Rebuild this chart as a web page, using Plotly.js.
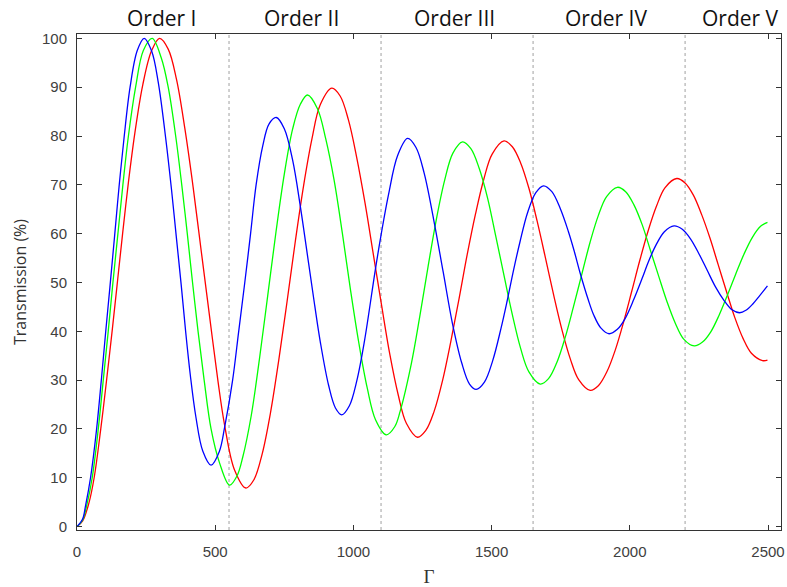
<!DOCTYPE html>
<html>
<head>
<meta charset="utf-8">
<script src="https://cdn.plot.ly/plotly-3.0.1.min.js"></script>
<style>html,body{margin:0;padding:0;background:#fff;}#chart{width:787px;height:587px;}</style>
</head>
<body>
<div id="chart"></div>
<script>
// Retardation Γ and transmission (%)
const blueGamma = [0,20,31,49,70,88,104,119,136,152,170,192,218,243,270,294,321,342,359,377,393,410,430,455,485,515,534,563,585,607,628,648,672,695,721,750,780,808,838,860,880,910,935,958,985,1012,1040,1079,1100,1127,1160,1196,1226,1256,1290,1325,1358,1392,1420,1444,1474,1504,1534,1555,1580,1603,1630,1660,1688,1718,1748,1778,1800,1820,1850,1869,1895,1925,1955,1983,2015,2045,2067,2095,2125,2160,2190,2220,2250,2280,2310,2340,2370,2397,2420,2445,2470,2498];
const blueT     = [0,1.5,4.3,10,19.5,30,40,49,59.5,69.5,79.5,90,97.5,100,97.4,91,79.5,69,59.5,49.5,40,31,22.5,15.5,12.6,15.4,20.3,30,40,50,60,70,78,82.5,83.8,81.5,75.1,65.6,53.9,45.3,37.9,29,24.3,22.9,24.7,29.8,38,52.5,59.7,68,76,79.5,77.7,72.4,63,52.1,41.7,33.5,29.2,28.1,29.6,34,40.6,45.9,52.7,58.4,64.3,68.4,69.8,68.6,65.2,60.4,56.2,52,46.4,43.4,40.7,39.5,40.4,42.6,46.6,50.9,54.2,57.7,60.4,61.6,60.9,58.9,55.9,52.5,49.1,46.4,44.4,43.8,44.3,45.6,47.3,49.3];

const greenGamma = [0,20,37,55,77,95,113,130,148,166,186,212,240,272,305,330,357,379,399,418,438,460,485,516,552,579,600,630,660,690,720,750,780,808,834,870,900,930,960,990,1020,1050,1080,1119,1150,1169,1210,1240,1270,1300,1330,1360,1395,1425,1455,1485,1515,1545,1575,1605,1635,1676,1706,1736,1766,1796,1826,1856,1886,1916,1955,1985,2015,2045,2075,2105,2135,2165,2195,2233,2263,2293,2323,2353,2383,2413,2443,2473,2498];
const greenT     = [0,1.3,4.8,10,20,30,40,50,60,70,80,90,97.5,100,96,90,80,70,60,50,40,30,20,13,8.5,10.4,14.3,22.6,34.3,47.3,60.4,72.2,81.4,86.5,88.4,85.6,79.4,71,60.1,48.3,37.5,28.4,21.9,18.8,20.5,23.6,33.5,43,53.2,62.9,70.9,76.5,78.8,77.4,73.4,67.4,59.5,51.4,43.4,36.5,31.7,29.2,30.3,33.6,38.7,45,51.6,58.2,63.7,67.6,69.5,68.6,65.9,61.8,56.5,51.2,46,41.6,38.4,37,37.8,39.9,43.3,47.4,51.7,55.8,59.2,61.5,62.3];

const redGamma = [0,20,43,62,86,105,128,147,165,186,209,238,270,299,330,360,390,420,450,480,510,534,570,611,640,670,700,730,760,790,820,850,880,922,952,982,1012,1042,1072,1102,1132,1162,1192,1232,1262,1292,1322,1352,1382,1412,1442,1472,1502,1545,1575,1605,1635,1665,1695,1725,1755,1785,1815,1857,1887,1917,1947,1977,2007,2037,2067,2097,2127,2170,2200,2230,2260,2290,2320,2350,2380,2410,2440,2480,2498];
const redT     = [0,1.1,4.8,10,20,29,40.5,50.5,60,70.5,80.5,90.5,97.5,100,97.8,91.6,81.6,69.6,56.2,42.9,29.8,20.8,11.6,7.9,9.6,14.9,23.3,34.1,46.1,58.5,69.9,79.4,86.4,89.8,88.2,83.3,75.6,66.3,55.8,45.3,35.2,27,21.1,18.3,19.7,23.6,29.8,37.8,46.6,55.8,64.1,71.2,76.3,79,77.8,74.5,69.3,62.5,55,47.3,40.2,34.3,30.1,27.9,28.9,31.7,36.1,41.8,48.2,54.7,60.7,65.7,69.4,71.3,70.4,67.9,63.9,59.1,53.6,48.1,42.8,38.5,35.5,34,34.1];

const orderBounds = [550, 1100, 1650, 2200];
const orderLabels = ['Order I', 'Order II', 'Order III', 'Order IV', 'Order V'];
const orderLabelGamma = [305, 811, 1365, 1915, 2400];
const xTicks = [0, 500, 1000, 1500, 2000, 2500];
const yTicks = [0, 10, 20, 30, 40, 50, 60, 70, 80, 90, 100];

function trace(x, y, color) {
  return {x: x, y: y, type: 'scatter', mode: 'lines',
          line: {color: color, width: 1.3, shape: 'spline', smoothing: 1},
          hoverinfo: 'skip', showlegend: false};
}
const data = [
  trace(redGamma, redT, '#ff0000'),
  trace(greenGamma, greenT, '#00ff00'),
  trace(blueGamma, blueT, '#0000ff')
];

const tickFont = {family: 'Liberation Sans, Arial, sans-serif', size: 15, color: '#404040'};
const layout = {
  width: 787, height: 587,
  margin: {l: 77, r: 6, t: 34, b: 57},
  paper_bgcolor: '#ffffff', plot_bgcolor: '#ffffff',
  xaxis: {
    range: [0, 2547], tickvals: xTicks, ticktext: xTicks.map(String),
    ticks: 'inside', ticklen: 5, tickcolor: '#333', tickwidth: 1,
    showline: true, linecolor: '#333', linewidth: 1, mirror: 'ticks',
    showgrid: false, zeroline: false, tickfont: tickFont, ticklabelstandoff: 8,
    title: {text: 'Γ', font: {family: 'Liberation Serif, DejaVu Serif, serif', size: 19, color: '#333'}, standoff: 11}
  },
  yaxis: {
    range: [-0.7, 100.9], tickvals: yTicks, ticktext: yTicks.map(String),
    ticks: 'inside', ticklen: 5, tickcolor: '#333', tickwidth: 1,
    showline: true, linecolor: '#333', linewidth: 1, mirror: 'ticks',
    showgrid: false, zeroline: false, tickfont: tickFont, ticklabelstandoff: 6,
    title: {text: 'Transmission (%)', font: {family: 'Open Sans, Noto Sans, sans-serif', size: 16, color: '#333'}, standoff: 11}
  },
  shapes: orderBounds.map(function (b) {
    return {type: 'line', xref: 'x', yref: 'paper', x0: b, x1: b, y0: 0, y1: 1,
            line: {color: '#a0a0a0', width: 1, dash: 'dot'}, layer: 'below'};
  }),
  annotations: orderLabels.map(function (t, i) {
    return {text: t, xref: 'x', yref: 'paper', x: orderLabelGamma[i], y: 1.032,
            xanchor: 'center', yanchor: 'middle', showarrow: false,
            font: {family: 'Open Sans, Noto Sans, sans-serif', size: 21, color: '#111'}};
  })
};

Plotly.newPlot('chart', data, layout, {displayModeBar: false, staticPlot: true});
</script>
</body>
</html>
